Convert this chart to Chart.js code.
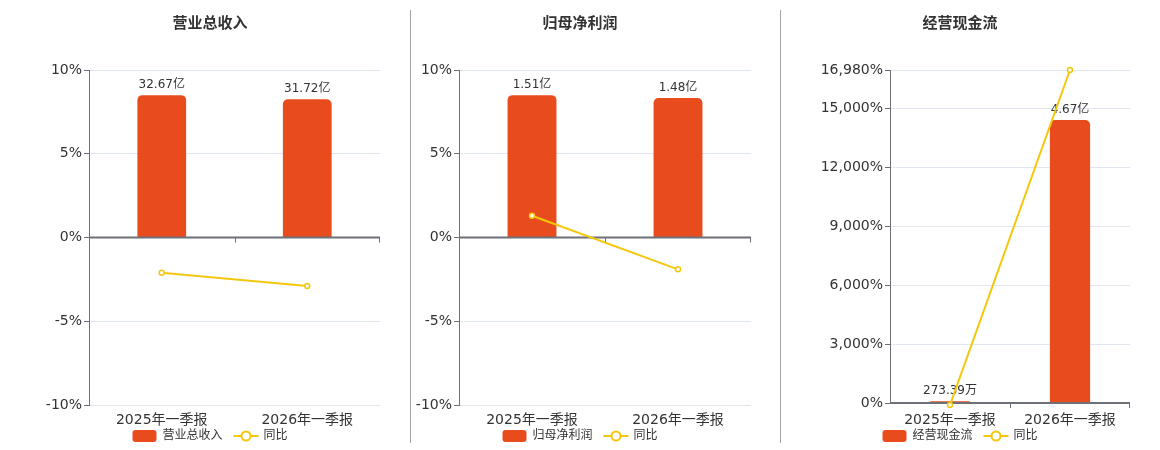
<!DOCTYPE html>
<html>
<head>
<meta charset="utf-8">
<script src="https://cdn.jsdelivr.net/npm/chart.js@4.4.1/dist/chart.umd.min.js"></script>
<style>
  body { margin: 0; background: #fff; }
  #wrap { position: relative; width: 1160px; height: 450px; }
  .box { position: absolute; top: 0; height: 450px; }
  .sep { position: absolute; top: 10px; height: 433px; width: 0; border-left: 1px solid #a5a5a0; }
</style>
</head>
<body>
<div id="wrap">
  <div class="sep" style="left:410px"></div>
  <div class="sep" style="left:780px"></div>
  <div class="box" style="left:40px;width:340px"><canvas id="revenue_chart"></canvas></div>
  <div class="box" style="left:409px;width:342px"><canvas id="profit_chart"></canvas></div>
  <div class="box" style="left:790px;width:340px"><canvas id="cash_chart"></canvas></div>
</div>
<script>
// 报告期
const periods = ['2025年一季报', '2026年一季报'];

// 营业总收入 (亿)
const revenueValues = [32.67, 31.72];
const revenueLabels = ['32.67亿', '31.72亿'];
const revenueYoy = [-2.1, -2.9];

// 归母净利润 (亿)
const profitValues = [1.51, 1.48];
const profitLabels = ['1.51亿', '1.48亿'];
const profitYoy = [1.3, -1.9];

// 经营现金流 (亿)
const cashValues = [0.027339, 4.67];
const cashLabels = ['273.39万', '4.67亿'];
const cashYoy = [-98, 16980];

// 同比刻度
const pctTicks = [-10, -5, 0, 5, 10];
const cashTicks = [0, 3000, 6000, 9000, 12000, 15000, 16980];

const FONT = '"DejaVu Sans", "Noto Sans CJK SC", sans-serif';
const BAR_COLOR = '#e84c1c';
const LINE_COLOR = '#f4c70f';
const AXIS_COLOR = '#6e7079';

Chart.defaults.font.family = FONT;
Chart.defaults.color = '#333';

document.addEventListener("DOMContentLoaded", function () {
  build_chart('revenue_chart', {
    name: '营业总收入', values: revenueValues, labels: revenueLabels, yoy: revenueYoy,
    ticks: pctTicks, symmetric: true, axisWidth: 49, xHeight: 45, xPad: 7
  });
  build_chart('profit_chart', {
    name: '归母净利润', values: profitValues, labels: profitLabels, yoy: profitYoy,
    ticks: pctTicks, symmetric: true, axisWidth: 50, xHeight: 45, xPad: 7
  });
  build_chart('cash_chart', {
    name: '经营现金流', values: cashValues, labels: cashLabels, yoy: cashYoy,
    ticks: cashTicks, symmetric: false, axisWidth: 100, xHeight: 47, xPad: 9
  });
});

// 零轴 + 柱顶标签
const barDecor = {
  id: 'barDecor',
  afterDatasetDraw(chart, args, opts) {
    if (args.index !== 0) return;
    const { ctx, chartArea, scales } = chart;
    const y0 = scales.y.getPixelForValue(0);
    ctx.save();
    ctx.strokeStyle = AXIS_COLOR;
    ctx.lineWidth = 2;
    ctx.beginPath(); ctx.moveTo(chartArea.left, y0); ctx.lineTo(chartArea.right, y0); ctx.stroke();
    ctx.lineWidth = 1;
    for (let i = 0; i < chart.data.labels.length; i++) {
      const x = Math.min(Math.round(scales.x.getPixelForValue(i + 0.5)) + 0.5, chartArea.right - 0.5);
      ctx.beginPath(); ctx.moveTo(x, y0); ctx.lineTo(x, y0 + 5); ctx.stroke();
    }
    ctx.fillStyle = '#333';
    ctx.font = '12px ' + FONT;
    ctx.textAlign = 'center';
    ctx.textBaseline = 'bottom';
    args.meta.data.forEach((bar, i) => ctx.fillText(opts.labels[i], bar.x, bar.y - 4));
    ctx.restore();
  }
};

// 底部图例 (柱 + 同比线)
const bottomLegend = {
  id: 'bottomLegend',
  afterDraw(chart) {
    const ctx = chart.ctx;
    const ds = chart.data.datasets;
    const y = 436;
    ctx.save();
    ctx.font = '12px ' + FONT;
    const w0 = ctx.measureText(ds[0].label).width;
    const w1 = ctx.measureText(ds[1].label).width;
    const total = 24 + 6 + w0 + 11 + 25 + 5 + w1;
    let x = chart.width / 2 - total / 2;

    ctx.fillStyle = BAR_COLOR;
    ctx.beginPath(); ctx.roundRect(x, y - 6, 24, 12, 3); ctx.fill();
    x += 30;
    ctx.fillStyle = '#333';
    ctx.textAlign = 'left';
    ctx.textBaseline = 'middle';
    ctx.fillText(ds[0].label, x, y);
    x += w0 + 11;

    ctx.strokeStyle = LINE_COLOR;
    ctx.lineWidth = 2;
    ctx.beginPath(); ctx.moveTo(x, y); ctx.lineTo(x + 25, y); ctx.stroke();
    ctx.fillStyle = '#fff';
    ctx.beginPath(); ctx.arc(x + 12.5, y, 4.5, 0, Math.PI * 2); ctx.fill(); ctx.stroke();
    x += 30;
    ctx.fillStyle = '#333';
    ctx.fillText(ds[1].label, x, y);
    ctx.restore();
  }
};

function build_chart(id, cfg) {
  const barMax = Math.max(...cfg.values) / 0.85;

  const ctx = document.getElementById(id).getContext('2d');
  new Chart(ctx, {
    data: {
      labels: periods,
      datasets: [{
        type: 'bar',
        label: cfg.name,
        data: cfg.values,
        yAxisID: 'yBar',
        backgroundColor: BAR_COLOR,
        borderRadius: 5,
        borderSkipped: 'start',
        categoryPercentage: 0.335,
        barPercentage: 1,
        order: 1
      }, {
        type: 'line',
        label: '同比',
        data: cfg.yoy,
        yAxisID: 'y',
        borderColor: LINE_COLOR,
        borderWidth: 2,
        pointRadius: 2.5,
        pointBorderWidth: 1.5,
        pointBackgroundColor: '#fff',
        pointBorderColor: LINE_COLOR,
        tension: 0,
        clip: false,
        order: 0
      }]
    },
    options: {
      responsive: true,
      maintainAspectRatio: false,
      animation: false,
      layout: { padding: 0, autoPadding: false },
      scales: {
        x: {
          grid: { display: false, drawTicks: false },
          border: { display: false },
          ticks: { color: '#333', font: { size: 14 }, padding: cfg.xPad, maxRotation: 0 },
          afterFit: s => { s.height = cfg.xHeight; }
        },
        y: {
          position: 'left',
          min: cfg.ticks[0],
          max: cfg.ticks[cfg.ticks.length - 1],
          afterBuildTicks: s => { s.ticks = cfg.ticks.map(v => ({ value: v })); },
          afterFit: s => { s.width = cfg.axisWidth; },
          grid: { color: '#e0e6f1', tickColor: AXIS_COLOR, tickLength: 5 },
          border: { display: true, color: AXIS_COLOR },
          ticks: {
            color: '#333', font: { size: 14 }, padding: 2,
            callback: v => v.toLocaleString('en-US') + '%'
          }
        },
        yBar: {
          display: false,
          min: cfg.symmetric ? -barMax : 0,
          max: barMax
        }
      },
      plugins: {
        title: {
          display: true,
          text: cfg.name,
          color: '#333',
          font: { size: 15, weight: 'bold' },
          padding: { top: 15, bottom: 37 }
        },
        legend: { display: false },
        tooltip: { enabled: false },
        barDecor: { labels: cfg.labels }
      }
    },
    plugins: [barDecor, bottomLegend]
  });
}
</script>
</body>
</html>
